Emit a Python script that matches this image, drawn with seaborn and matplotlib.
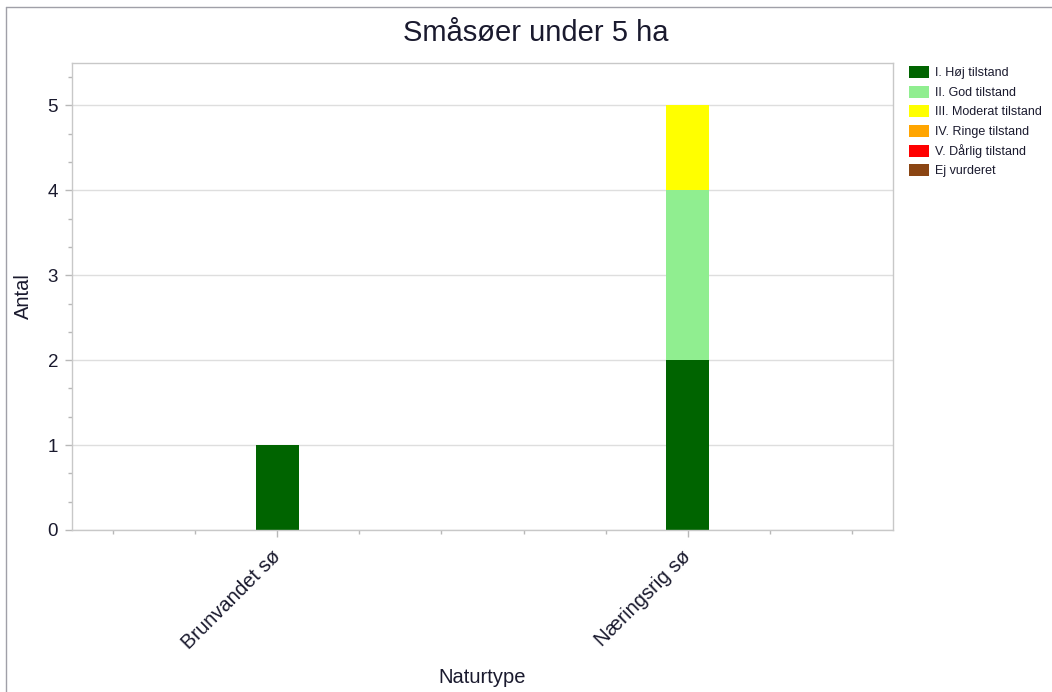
import matplotlib
matplotlib.use('Agg')
import matplotlib.pyplot as plt
from matplotlib.patches import Patch
from matplotlib.lines import Line2D
from matplotlib.ticker import MultipleLocator
import seaborn as sns
import pandas as pd

# data
categories = ['Brunvandet sø', 'Næringsrig sø']
statuses = ['I. Høj tilstand', 'II. God tilstand', 'III. Moderat tilstand',
            'IV. Ringe tilstand', 'V. Dårlig tilstand', 'Ej vurderet']
colors = ['#006400', '#90EE90', '#FFFF00', '#FFA500', '#FF0000', '#8B4513']
hoej = [1, 2]
god = [0, 2]
moderat = [0, 1]
ringe = [0, 0]
daarlig = [0, 0]
ej = [0, 0]


def build_frame():
    """Long table: one row per naturtype and tilstand"""
    rows = []
    for vals, status in zip([hoej, god, moderat, ringe, daarlig, ej], statuses):
        for cat, v in zip(categories, vals):
            rows.append({'Naturtype': cat, 'Tilstand': status, 'Antal': v})
    return pd.DataFrame(rows)


def plotting(df):
    sns.set_style('white')
    plt.rcParams['font.family'] = ['Liberation Sans', 'DejaVu Sans']
    fig = plt.figure(figsize=(10.52, 6.92), dpi=100)
    ax = fig.add_axes([72 / 1052, 162 / 692, 821 / 1052, 467 / 692])

    # seaborn stacks the last hue level at the bottom, so reverse the order
    pal = dict(zip(statuses, colors))
    sns.histplot(data=df, x='Naturtype', weights='Antal', hue='Tilstand',
                 hue_order=statuses[::-1], palette=pal, multiple='stack',
                 discrete=True, shrink=0.105, alpha=1, linewidth=0,
                 legend=False, ax=ax)

    ax.set_xlim(-0.5, 1.5)
    ax.set_ylim(0, 5.5)
    ax.set_yticks([0, 1, 2, 3, 4, 5])
    ax.yaxis.set_minor_locator(MultipleLocator(1 / 3))
    ax.set_xticks([0, 1])
    ax.xaxis.set_minor_locator(MultipleLocator(0.2))
    ax.set_xticklabels(categories, rotation=45, ha='right', va='center',
                       rotation_mode='anchor', fontsize=14.5, color='#1a1a2e')
    ax.tick_params(axis='y', labelsize=13.5, labelcolor='#1a1a2e')
    ax.tick_params(which='both', direction='out', color='#b8b8b8', width=1,
                   bottom=True, left=True)
    ax.tick_params(which='major', length=5)
    ax.tick_params(which='minor', length=3)
    ax.tick_params(axis='x', which='major', pad=12)
    ax.tick_params(axis='y', which='major', pad=5)
    ax.yaxis.grid(True, color='#dedede', linewidth=1)
    ax.set_axisbelow(True)
    for sp in ax.spines.values():
        sp.set_color('#c8c8c8')
        sp.set_linewidth(1)

    ax.set_xlabel('Naturtype', fontsize=14.5, color='#1a1a2e')
    ax.set_ylabel('Antal', fontsize=14.5, color='#1a1a2e')
    ax.xaxis.set_label_coords(0.5, -0.295)
    ax.yaxis.set_label_coords(-0.0475, 0.5)

    fig.text(536 / 1052, 1 - 33 / 692, 'Småsøer under 5 ha', fontsize=21,
             ha='center', va='center', color='#1a1a2e')

    handles = [Patch(facecolor=c, edgecolor='none') for c in colors]
    fig.legend(handles, statuses, loc='upper left',
               bbox_to_anchor=(909 / 1052, 1 - 66 / 692), frameon=False,
               fontsize=9, handlelength=1.6, handleheight=1.1,
               handletextpad=0.45, labelspacing=0.5, borderpad=0,
               borderaxespad=0, labelcolor='#1a1a2e')

    # thin frame line along the top and left edge of the picture
    fig.add_artist(Line2D([6 / 1052, 1], [1 - 7 / 692, 1 - 7 / 692],
                          transform=fig.transFigure, color='#a0a0a8', lw=1))
    fig.add_artist(Line2D([6 / 1052, 6 / 1052], [0, 1 - 7 / 692],
                          transform=fig.transFigure, color='#a0a0a8', lw=1))

    fig.savefig('out.png', dpi=100)


def main():
    df = build_frame()
    plotting(df)


if __name__ == "__main__":
    main()
